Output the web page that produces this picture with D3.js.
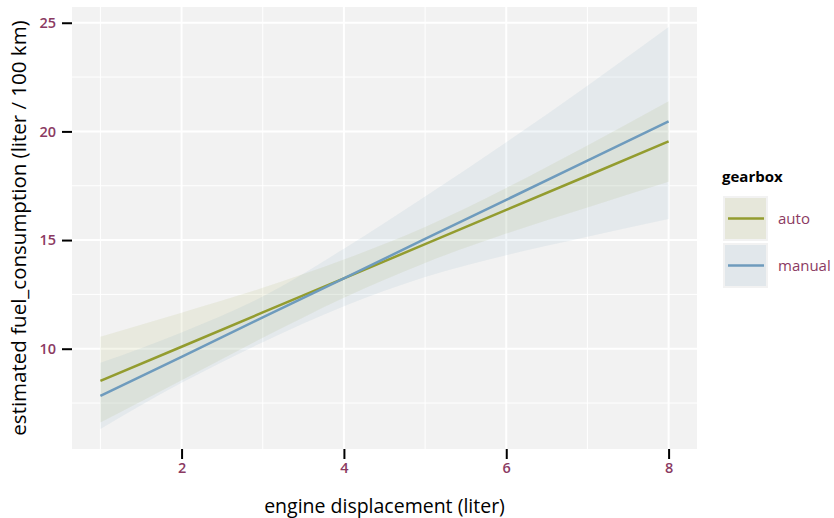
<!DOCTYPE html>
<html>
<head>
<meta charset="utf-8">
<script src="https://cdn.jsdelivr.net/npm/d3@7"></script>
<style>
  body { margin: 0; background: #fff; }
  text { font-family: "Open Sans", "Noto Sans", sans-serif; }
</style>
</head>
<body>
<div id="chart"></div>
<script>
// data
var displ = [1, 2, 3, 4, 5, 6, 7, 8];
var autoFit   = [8.52, 10.09, 11.67, 13.24, 14.81, 16.39, 17.96, 19.54];
var autoLow   = [6.6, 8.55, 10.5, 12.35, 13.95, 15.3, 16.5, 17.68];
var autoHigh  = [10.55, 11.66, 12.8, 14.1, 15.6, 17.4, 19.35, 21.39];
var manualFit  = [7.83, 9.63, 11.44, 13.24, 15.05, 16.85, 18.66, 20.46];
var manualLow  = [6.31, 8.43, 10.3, 11.95, 13.3, 14.3, 15.15, 15.97];
var manualHigh = [9.35, 10.75, 12.4, 14.6, 17.0, 19.5, 22.1, 24.8];
var groups = ["auto", "manual"];
var xTicks = [2, 4, 6, 8];
var yTicks = [10, 15, 20, 25];

var colors = {auto: "#939c2f", manual: "#6e9bbd"};
var labelColor = "#8b3a62";

var W = 834, H = 518;
var margin = {top: 7, right: 137, bottom: 69, left: 72},
    width = W - margin.left - margin.right,
    height = H - margin.top - margin.bottom;

var svg = d3.select("#chart").append("svg")
    .attr("width", W)
    .attr("height", H);

var g = svg.append("g")
    .attr("transform", "translate(" + margin.left + "," + margin.top + ")");

// ggplot style expansion of 5%
var xr = [1, 8], yr = [d3.min(manualLow), d3.max(manualHigh)];
var xpad = (xr[1] - xr[0]) * 0.05, ypad = (yr[1] - yr[0]) * 0.05;
var x = d3.scaleLinear().domain([xr[0] - xpad, xr[1] + xpad]).range([0, width]);
var y = d3.scaleLinear().domain([yr[0] - ypad, yr[1] + ypad]).range([height, 0]);

g.append("rect")
    .attr("width", width)
    .attr("height", height)
    .attr("fill", "#f2f2f2");

// minor grid
var xMinor = [1, 3, 5, 7], yMinor = [7.5, 12.5, 17.5, 22.5];
g.selectAll(".xminor").data(xMinor).enter().append("line")
    .attr("x1", d => x(d)).attr("x2", d => x(d))
    .attr("y1", 0).attr("y2", height)
    .attr("stroke", "#fff").attr("stroke-width", 1);
g.selectAll(".yminor").data(yMinor).enter().append("line")
    .attr("x1", 0).attr("x2", width)
    .attr("y1", d => y(d)).attr("y2", d => y(d))
    .attr("stroke", "#fff").attr("stroke-width", 1);

// major grid
g.selectAll(".xmajor").data(xTicks).enter().append("line")
    .attr("x1", d => x(d)).attr("x2", d => x(d))
    .attr("y1", 0).attr("y2", height)
    .attr("stroke", "#fff").attr("stroke-width", 2);
g.selectAll(".ymajor").data(yTicks).enter().append("line")
    .attr("x1", 0).attr("x2", width)
    .attr("y1", d => y(d)).attr("y2", d => y(d))
    .attr("stroke", "#fff").attr("stroke-width", 2);

var series = {
  auto:   {fit: autoFit, low: autoLow, high: autoHigh},
  manual: {fit: manualFit, low: manualLow, high: manualHigh}
};

var area = d3.area()
    .x(d => x(d.x))
    .y0(d => y(d.lo))
    .y1(d => y(d.hi))
    .curve(d3.curveMonotoneX);

var line = d3.line()
    .x(d => x(d.x))
    .y(d => y(d.v));

groups.forEach(function(k) {
  var s = series[k];
  var pts = displ.map((d, i) => ({x: d, lo: s.low[i], hi: s.high[i]}));
  g.append("path")
      .datum(pts)
      .attr("d", area)
      .attr("fill", colors[k])
      .attr("fill-opacity", 0.1);
});

groups.forEach(function(k) {
  var s = series[k];
  var pts = displ.map((d, i) => ({x: d, v: s.fit[i]}));
  g.append("path")
      .datum(pts)
      .attr("d", line)
      .attr("fill", "none")
      .attr("stroke", colors[k])
      .attr("stroke-width", 2.5);
});

// axes
var xAxis = g.append("g")
    .attr("transform", "translate(0," + height + ")")
    .call(d3.axisBottom(x).tickValues(xTicks).tickSize(10).tickPadding(4).tickFormat(d3.format("d")));
var yAxis = g.append("g")
    .call(d3.axisLeft(y).tickValues(yTicks).tickSize(10).tickPadding(6).tickFormat(d3.format("d")));

[xAxis, yAxis].forEach(function(a) {
  a.select(".domain").remove();
  a.selectAll(".tick line").attr("stroke", "#000").attr("stroke-width", 2);
  a.selectAll(".tick text")
      .attr("fill", labelColor)
      .style("font-size", "14.5px")
      .style("font-weight", 600);
});

svg.append("text")
    .attr("x", margin.left + width / 2)
    .attr("y", 513)
    .attr("text-anchor", "middle")
    .style("font-size", "19.5px")
    .style("font-weight", 500)
    .text("engine displacement (liter)");

svg.append("text")
    .attr("transform", "translate(26," + (margin.top + height / 2) + ") rotate(-90)")
    .attr("text-anchor", "middle")
    .style("font-size", "20.5px")
    .style("font-weight", 500)
    .text("estimated fuel_consumption (liter / 100 km)");

// legend
var legend = svg.append("g").attr("transform", "translate(722,0)");
legend.append("text")
    .attr("x", 0).attr("y", 182)
    .style("font-size", "15px")
    .style("font-weight", 700)
    .text("gearbox");

groups.forEach(function(k, i) {
  var gy = 196 + i * 47;
  legend.append("rect")
      .attr("x", 1).attr("y", gy)
      .attr("width", 45).attr("height", 45)
      .attr("fill", "#f2f2f2");
  legend.append("rect")
      .attr("x", 3).attr("y", gy + 2)
      .attr("width", 41).attr("height", 41)
      .attr("fill", colors[k])
      .attr("fill-opacity", 0.12);
  legend.append("line")
      .attr("x1", 6).attr("x2", 42)
      .attr("y1", gy + 22.5).attr("y2", gy + 22.5)
      .attr("stroke", colors[k])
      .attr("stroke-width", 2.5);
  legend.append("text")
      .attr("x", 56).attr("y", gy + 22.5)
      .attr("dy", "0.35em")
      .attr("fill", labelColor)
      .style("font-size", "15px")
      .style("font-weight", 500)
      .text(k);
});
</script>
</body>
</html>
